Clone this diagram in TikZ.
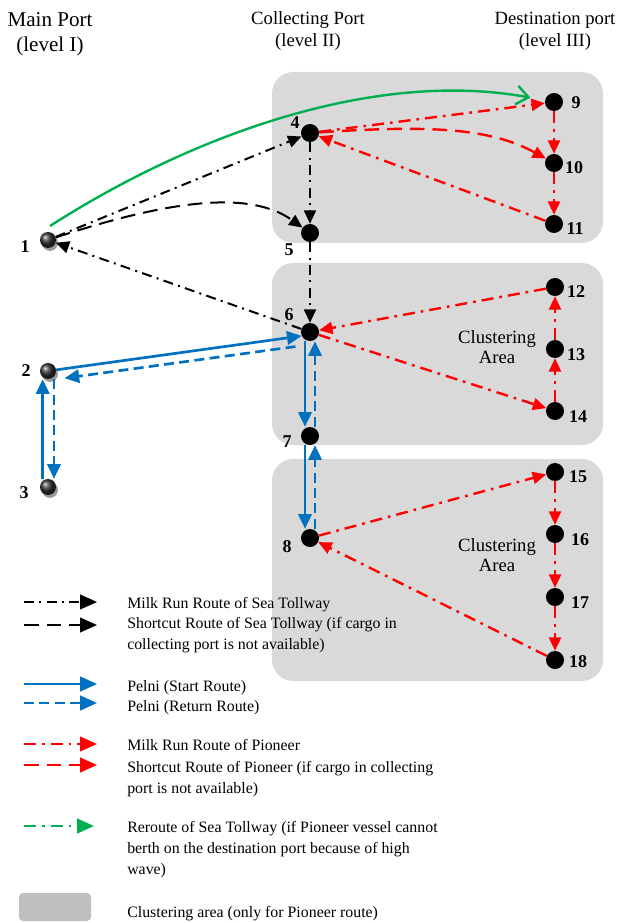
\documentclass[tikz,border=0pt]{standalone}
\usepackage{fontspec}
\setmainfont{Liberation Serif}
\usetikzlibrary{arrows.meta,calc,shadows}

\definecolor{areagray}{HTML}{D9D9D9}
\definecolor{keygray}{HTML}{BFBFBF}
\definecolor{pelniblue}{HTML}{0070C0}
\definecolor{pionred}{HTML}{FF0000}
\definecolor{reroutegreen}{HTML}{00B050}

\begin{document}
\begin{tikzpicture}[
    x=0.75pt, y=-0.75pt,
    >={Triangle[length=10pt,width=9pt]},
    port/.style     ={circle, fill=black, minimum size=13.5pt, inner sep=0pt},
    mainport/.style ={circle, minimum size=12pt, inner sep=0pt,
                      shading=ball, ball color=black!80,
                      general shadow={fill=black!40, shadow xshift=1.5pt,
                                      shadow yshift=-2.2pt}},
    num/.style      ={inner sep=0pt, font=\fontsize{13.5}{13.5}\selectfont\bfseries},
    head/.style     ={align=center, inner sep=0pt, anchor=base,
                      font=\fontsize{14}{16.5}\selectfont},
    areatext/.style ={align=center, inner sep=0pt, anchor=base,
                      font=\fontsize{14}{15}\selectfont},
    legtext/.style  ={align=left, inner sep=0pt, anchor=base west,
                      font=\fontsize{11.9}{15.5}\selectfont},
    area/.style     ={fill=areagray, rounded corners=16pt},
    milkrun/.style  ={->, line width=1.5pt,
                      dash pattern=on 7.5pt off 4pt on 1.5pt off 4pt},
    shortcut/.style ={->, line width=1.5pt, dash pattern=on 11pt off 6pt},
    pelnigo/.style  ={->, pelniblue, line width=2pt,
                      >={Triangle[length=11pt,width=10pt]}},
    pelniback/.style={pelnigo, dash pattern=on 7.5pt off 4pt},
    pmilkrun/.style ={milkrun, pionred, line width=1.8pt,
                      dash pattern=on 9pt off 4.5pt on 2pt off 4.5pt},
    pshortcut/.style={shortcut, pionred, line width=1.8pt},
    reroute/.style  ={-{Straight Barb[length=9pt,width=14pt]},
                      reroutegreen, line width=1.8pt},
    keytip/.style   ={>={Triangle[length=12.75pt,width=11pt]}},
]
\useasboundingbox (0,0) rectangle (617,923);

% =========================================================
% Clustering areas (background)
% =========================================================
\fill[area] (272,72)  rectangle (603,243);
\fill[area] (272,263) rectangle (603,445);
\fill[area] (272,459) rectangle (603,681);
% multi-line texts: base = baseline of last line
\node[areatext] (areaB) at (497,363) {Clustering\\Area};
\node[areatext] (areaC) at (497,571) {Clustering\\Area};

% =========================================================
% Column headers
% =========================================================
\node[head, font=\fontsize{15.8}{18.75}\selectfont] (hmain) at (50,52)
    {Main Port\\(level I)};
\node[head] (hcoll) at (308,47) {Collecting Port\\(level II)};
\node[head] (hdest) at (555,47) {Destination port\\(level III)};

% =========================================================
% Ports
% =========================================================
\node[mainport] (n1) at (48,240) {};
\node[mainport] (n2) at (48,371) {};
\node[mainport] (n3) at (48,487) {};

\node[port] (n4) at (310,133) {};
\node[port] (n5) at (310,233) {};
\node[port] (n6) at (310,332) {};
\node[port] (n7) at (310,436) {};
\node[port] (n8) at (310,538) {};

\node[port] (n9)  at (554,102) {};
\node[port] (n10) at (554,163) {};
\node[port] (n11) at (554,224) {};
\node[port] (n12) at (555,287) {};
\node[port] (n13) at (555,349) {};
\node[port] (n14) at (555,411) {};
\node[port] (n15) at (555,472) {};
\node[port] (n16) at (555,534) {};
\node[port] (n17) at (555,597) {};
\node[port] (n18) at (555,660) {};

% port numbers
\node[num] (t1)  at (25,247)  {1};
\node[num] (t2)  at (26,371)  {2};
\node[num] (t3)  at (24,493)  {3};
\node[num] (t4)  at (295,123) {4};
\node[num] (t5)  at (289,250) {5};
\node[num] (t6)  at (289,315) {6};
\node[num] (t7)  at (287,442) {7};
\node[num] (t8)  at (287,547) {8};
\node[num] (t9)  at (576,103) {9};
\node[num] (t10) at (574,168) {10};
\node[num] (t11) at (575,229) {11};
\node[num] (t12) at (576,292) {12};
\node[num] (t13) at (576,355) {13};
\node[num] (t14) at (578,417) {14};
\node[num] (t15) at (578,477) {15};
\node[num] (t16) at (580,540) {16};
\node[num] (t17) at (580,603) {17};
\node[num] (t18) at (578,662) {18};

% =========================================================
% Sea Tollway (black)
% =========================================================
\draw[milkrun] (n1) -- (n4);
\draw[milkrun] (n4) -- (n5);
\draw[milkrun] (n5) -- (n6);
\draw[milkrun] (n6) -- (n1);
\draw[shortcut] (n1) .. controls (170,200) and (250,190) .. (n5);

% reroute (green)
\coordinate (gstart) at (50,226);
\draw[reroute, shorten >=11pt] (gstart) .. controls (200,130) and (380,70) .. (n9);

% =========================================================
% Pioneer (red)
% =========================================================
\draw[pmilkrun] (n4)  -- (n9);
\draw[pmilkrun] (n9)  -- (n10);
\draw[pmilkrun] (n10) -- (n11);
\draw[pmilkrun] (n11) -- (n4);
\draw[pshortcut] (n4) .. controls (430,125) and (490,128) .. (n10);

\draw[pmilkrun] (n12) -- (n6);
\draw[pmilkrun] (n6)  -- (n14);
\draw[pmilkrun] (n14) -- (n13);
\draw[pmilkrun] (n13) -- (n12);

\draw[pmilkrun] (n8)  -- (n15);
\draw[pmilkrun] (n15) -- (n16);
\draw[pmilkrun] (n16) -- (n17);
\draw[pmilkrun] (n17) -- (n18);
\draw[pmilkrun] (n18) -- (n8);

% =========================================================
% Pelni (blue)
% =========================================================
\draw[pelnigo]   (n2) -- (n6.205);
\draw[pelniback] ([xshift=-6pt,yshift=-6pt]n6.south west)
              -- ([xshift=8pt,yshift=-1pt]n2.south east);
\draw[pelnigo]   ([xshift=-4pt]n3.north) -- ([xshift=-4pt]n2.south);
\draw[pelniback] ([xshift=4.5pt]n2.south) -- ([xshift=4.5pt]n3.north);
\draw[pelnigo]   ([xshift=-3.75pt]n6.south) -- ([xshift=-3.75pt]n7.north);
\draw[pelniback] ([xshift=3.75pt]n7.north) -- ([xshift=3.75pt]n6.south);
\draw[pelnigo]   ([xshift=-3.75pt]n7.south) -- ([xshift=-3.75pt]n8.north);
\draw[pelniback] ([xshift=3.75pt]n8.north) -- ([xshift=3.75pt]n7.south);

% =========================================================
% Legend
% =========================================================
\coordinate (k1) at (24,602);
\coordinate (k2) at (24,625);
\coordinate (k3) at (24,684);
\coordinate (k4) at (24,703);
\coordinate (k5) at (24,744);
\coordinate (k6) at (24,765);
\coordinate (k7) at (24,826);
\draw[milkrun, keytip]   (k1) -- +(73,0);
\draw[shortcut, keytip]  (k2) -- +(73,0);
\draw[pelnigo, keytip]   (k3) -- +(73,0);
\draw[pelniback, keytip] (k4) -- +(73,0);
\draw[pmilkrun, keytip]  (k5) -- +(73,0);
\draw[pshortcut, keytip] (k6) -- +(73,0);
\draw[pmilkrun, reroutegreen, keytip] (k7) -- +(70,0);
\fill[keygray, rounded corners=3pt] (19,893) rectangle (91,921);

\node[legtext] (l1) at (127,608) {Milk Run Route of Sea Tollway};
\node[legtext] (l2) at (127,649)
    {Shortcut Route of Sea Tollway (if cargo in\\collecting port is not available)};
\node[legtext] (l3) at (127,691) {Pelni (Start Route)};
\node[legtext] (l4) at (127,711) {Pelni (Return Route)};
\node[legtext] (l5) at (127,750) {Milk Run Route of Pioneer};
\node[legtext] (l6) at (127,793)
    {Shortcut Route of Pioneer (if cargo in collecting\\port is not available)};
\node[legtext] (l7) at (127,874)
    {Reroute of Sea Tollway (if Pioneer vessel cannot\\berth on the destination port because of high\\wave)};
\node[legtext] (l8) at (127,917) {Clustering area (only for Pioneer route)};

\end{tikzpicture}
\end{document}
